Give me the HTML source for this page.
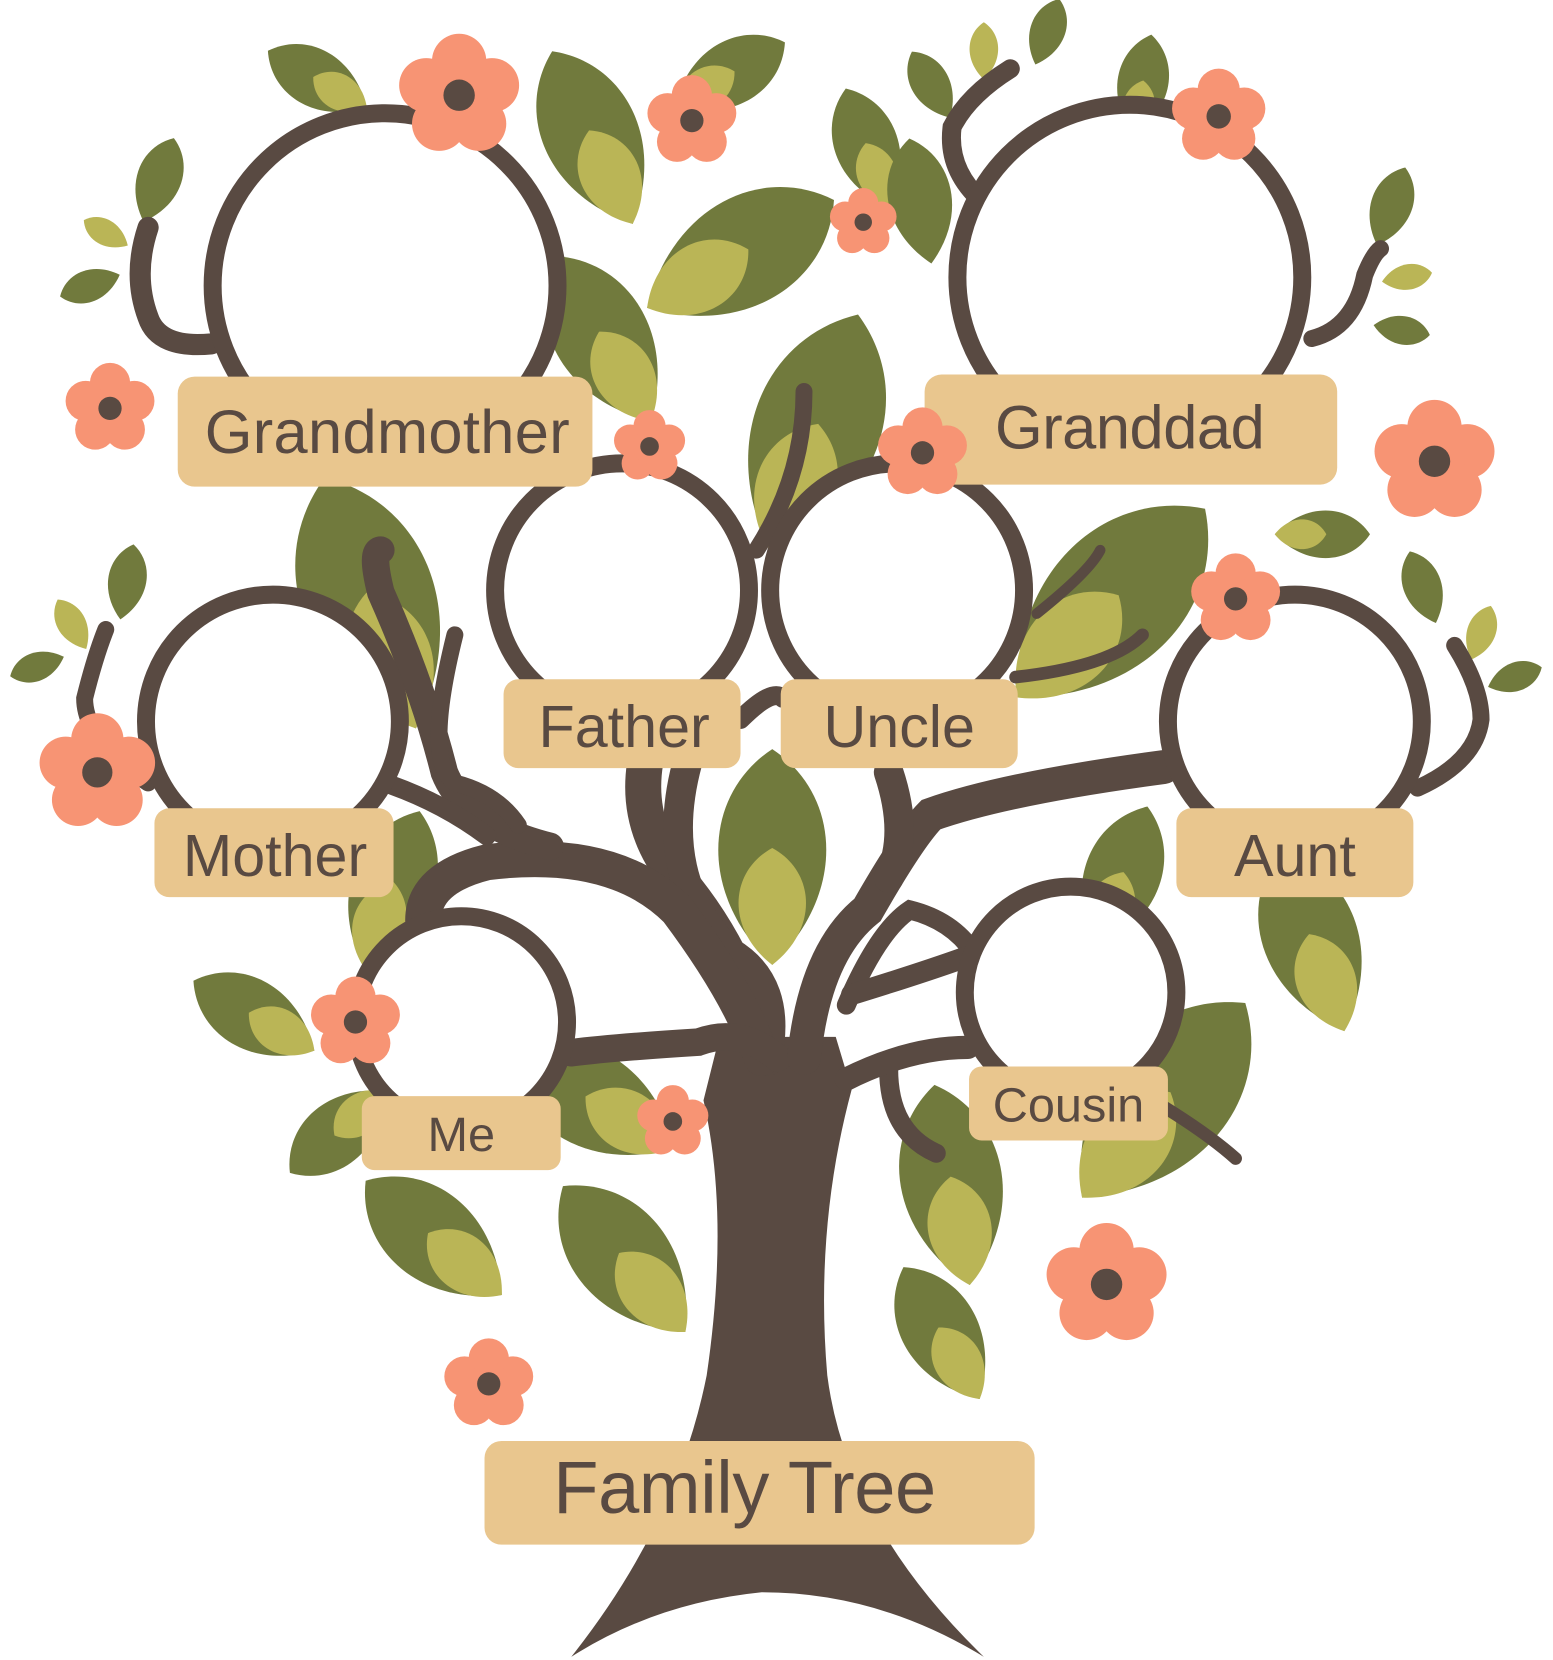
<!DOCTYPE html>
<html><head><meta charset="utf-8"><style>
html,body{margin:0;padding:0;background:#fff;}
svg{display:block}
text{font-family:"Liberation Sans",sans-serif;fill:#594a42;text-anchor:middle}
</style></head><body>
<svg width="1553" height="1660" viewBox="0 0 1468 1569" preserveAspectRatio="none" xmlns="http://www.w3.org/2000/svg">
<defs>
<g id="lf"><path d="M0,-60 C38,-35 42,20 0,60 C-42,20 -38,-35 0,-60Z" fill="#717a3d"/><path d="M0,-5 C24,8 26,40 0,60 C-26,40 -24,8 0,-5Z" fill="#bab556"/></g>
<g id="ld"><path d="M0,-60 C38,-35 42,20 0,60 C-42,20 -38,-35 0,-60Z" fill="#717a3d"/></g>
<g id="ll"><path d="M0,-60 C38,-35 42,20 0,60 C-42,20 -38,-35 0,-60Z" fill="#bab556"/></g>
<g id="fl"><g fill="#f79474"><circle cx="0" cy="-24" r="19"/><circle cx="23" cy="-7" r="19"/><circle cx="14" cy="20" r="19"/><circle cx="-14" cy="20" r="19"/><circle cx="-23" cy="-7" r="19"/><circle r="20"/></g><circle r="11" fill="#594a42"/></g>
</defs>
<!-- big leaves -->
<use href="#lf" transform="translate(570,320) rotate(-30) scale(1.5)"/>
<use href="#lf" transform="translate(560,130) rotate(-25) scale(1.5)"/>
<use href="#lf" transform="translate(700,240) rotate(60) scale(1.7)"/>
<use href="#lf" transform="translate(770,410) rotate(20) scale(2.0)"/>
<use href="#lf" transform="translate(350,570) rotate(-20) scale(2.1)"/>
<use href="#lf" transform="translate(1050,570) rotate(45) scale(2.1)"/>
<use href="#lf" transform="translate(1240,890) rotate(-20) scale(1.5)"/>
<use href="#lf" transform="translate(1100,1040) rotate(40) scale(2.0)"/>
<use href="#lf" transform="translate(900,1120) rotate(-10) scale(1.6)"/>
<use href="#lf" transform="translate(590,1190) rotate(-40) scale(1.5)"/>
<use href="#lf" transform="translate(410,1170) rotate(-50) scale(1.4)"/>
<use href="#lf" transform="translate(240,960) rotate(-60) scale(1.1)"/>
<use href="#lf" transform="translate(320,1070) rotate(-130) scale(1.0)"/>
<use href="#lf" transform="translate(730,810) rotate(0) scale(1.7)"/>
<use href="#lf" transform="translate(1060,830) rotate(20) scale(1.2)"/>
<use href="#lf" transform="translate(560,1040) rotate(-60) scale(1.5)"/>
<use href="#lf" transform="translate(370,840) rotate(20) scale(1.3)"/>
<use href="#lf" transform="translate(890,1260) rotate(-30) scale(1.2)"/>
<use href="#lf" transform="translate(820,140) rotate(-20) scale(1.0)"/>
<use href="#lf" transform="translate(690,70) rotate(60) scale(1.0)"/>
<use href="#lf" transform="translate(300,75) rotate(-60) scale(0.9)"/>
<use href="#ld" transform="translate(870,190) rotate(-10) scale(1.0)"/>
<use href="#lf" transform="translate(1080,80) rotate(10) scale(0.8)"/>
<use href="#lf" transform="translate(1250,505) rotate(90) scale(0.75)"/>
<use href="#ld" transform="translate(150,170) rotate(20) scale(0.7)"/>
<use href="#ll" transform="translate(100,220) rotate(-60) scale(0.4)"/>
<use href="#ld" transform="translate(85,270) rotate(-110) scale(0.5)"/>
<use href="#ld" transform="translate(120,550) rotate(10) scale(0.6)"/>
<use href="#ll" transform="translate(68,590) rotate(-30) scale(0.45)"/>
<use href="#ld" transform="translate(35,630) rotate(-110) scale(0.45)"/>
<use href="#ld" transform="translate(880,80) rotate(-30) scale(0.6)"/>
<use href="#ll" transform="translate(930,48) rotate(0) scale(0.45)"/>
<use href="#ld" transform="translate(990,30) rotate(20) scale(0.55)"/>
<use href="#ld" transform="translate(1315,195) rotate(20) scale(0.65)"/>
<use href="#ll" transform="translate(1330,262) rotate(80) scale(0.4)"/>
<use href="#ld" transform="translate(1325,312) rotate(100) scale(0.45)"/>
<use href="#ld" transform="translate(1345,555) rotate(-20) scale(0.6)"/>
<use href="#ll" transform="translate(1400,598) rotate(20) scale(0.45)"/>
<use href="#ld" transform="translate(1432,640) rotate(70) scale(0.45)"/>
<!-- trunk & branches -->
<g fill="none" stroke="#594a42" stroke-linecap="round">
<path d="M540,1566 Q640,1440 668,1300 Q690,1150 665,1040 L680,980 L790,980 L805,1030 Q770,1160 782,1300 Q800,1440 930,1566 Q830,1505 720,1505 Q620,1515 540,1566Z" fill="#594a42" stroke="none"/>
<path d="M725,1000 Q700,900 640,830 Q600,780 610,720" stroke-width="34"/>
<path d="M725,1000 Q740,930 690,900 Q620,830 650,720" stroke-width="28"/>
<path d="M720,1000 Q700,940 640,860 Q580,800 460,815 Q400,830 400,870" stroke-width="34"/>
<path d="M520,800 Q440,780 420,730 Q400,650 360,560 Q350,520 360,520" stroke-width="26"/>
<path d="M460,790 Q420,760 370,742" stroke-width="18"/>
<path d="M490,780 Q470,750 430,740 Q400,720 430,600" stroke-width="16"/>
<path d="M735,1000 Q700,970 660,985 Q580,990 540,995" stroke-width="26"/>
<path d="M760,1000 Q770,900 820,860 Q860,790 880,770 Q950,745 1100,725" stroke-width="32"/>
<path d="M800,950 Q830,880 860,860 Q900,870 920,900" stroke-width="18"/>
<path d="M805,940 Q870,920 912,905" stroke-width="20"/>
<path d="M840,1010 Q840,1070 885,1090" stroke-width="18"/>
<path d="M800,1020 Q860,990 915,990" stroke-width="22"/>
<path d="M840,830 Q860,790 840,730" stroke-width="28"/>
<path d="M700,680 Q730,650 740,660" stroke-width="18"/>
<path d="M715,520 Q760,450 760,370" stroke-width="16"/>
<path d="M960,640 Q1050,630 1080,600" stroke-width="12"/>
<path d="M980,580 Q1030,540 1040,520" stroke-width="10"/>
<path d="M1090,1040 Q1140,1070 1168,1095" stroke-width="12"/>
<path d="M200,325 Q150,330 140,300 Q125,260 140,215" stroke-width="20"/>
<path d="M928,190 Q895,160 900,120 Q915,90 955,65" stroke-width="18"/>
<path d="M1240,320 Q1280,310 1290,260 Q1298,240 1305,235" stroke-width="16"/>
<path d="M140,740 Q80,700 80,660 Q90,620 100,595" stroke-width="16"/>
<path d="M1340,745 Q1395,720 1400,680 Q1400,650 1375,610" stroke-width="16"/>
</g>
<!-- rings -->
<g fill="#fff" stroke="#594a42" stroke-width="17">
<circle cx="364" cy="270" r="163"/>
<circle cx="1068" cy="262" r="163"/>
<circle cx="588" cy="558" r="120"/>
<circle cx="848" cy="558" r="120"/>
<circle cx="258" cy="682" r="120"/>
<circle cx="1224" cy="682" r="120"/>
<circle cx="436" cy="966" r="100"/>
<circle cx="1012" cy="938" r="100"/>
</g>
<!-- labels -->
<g fill="#e9c68e">
<rect x="168" y="356" width="392" height="104" rx="16"/>
<rect x="874" y="354" width="390" height="104" rx="16"/>
<rect x="476" y="642" width="224" height="84" rx="14"/>
<rect x="738" y="642" width="224" height="84" rx="14"/>
<rect x="146" y="764" width="226" height="84" rx="14"/>
<rect x="1112" y="764" width="224" height="84" rx="14"/>
<rect x="342" y="1036" width="188" height="70" rx="12"/>
<rect x="916" y="1008" width="188" height="70" rx="12"/>
<rect x="458" y="1362" width="520" height="98" rx="16"/>
</g>
<text x="366" y="428" font-size="58" textLength="345">Grandmother</text>
<text x="1068" y="424" font-size="58" textLength="255">Granddad</text>
<text x="590" y="706" font-size="56">Father</text>
<text x="850" y="706" font-size="56">Uncle</text>
<text x="260" y="828" font-size="56">Mother</text>
<text x="1224" y="828" font-size="56">Aunt</text>
<text x="436" y="1088" font-size="46">Me</text>
<text x="1010" y="1060" font-size="46">Cousin</text>
<text x="704" y="1430" font-size="70" textLength="362">Family Tree</text>
<!-- flowers -->
<use href="#fl" transform="translate(434,90) scale(1.35)"/>
<use href="#fl" transform="translate(654,114) scale(1.0)"/>
<use href="#fl" transform="translate(816,210) scale(0.75)"/>
<use href="#fl" transform="translate(1152,110) scale(1.05)"/>
<use href="#fl" transform="translate(104,386) scale(1.0)"/>
<use href="#fl" transform="translate(614,422) scale(0.8)"/>
<use href="#fl" transform="translate(872,428) scale(1.0)"/>
<use href="#fl" transform="translate(1356,436) scale(1.35)"/>
<use href="#fl" transform="translate(1168,566) scale(1.0)"/>
<use href="#fl" transform="translate(92,730) scale(1.3)"/>
<use href="#fl" transform="translate(336,966) scale(1.0)"/>
<use href="#fl" transform="translate(636,1060) scale(0.8)"/>
<use href="#fl" transform="translate(1046,1214) scale(1.35)"/>
<use href="#fl" transform="translate(462,1308) scale(1.0)"/>
</svg>
</body></html>
